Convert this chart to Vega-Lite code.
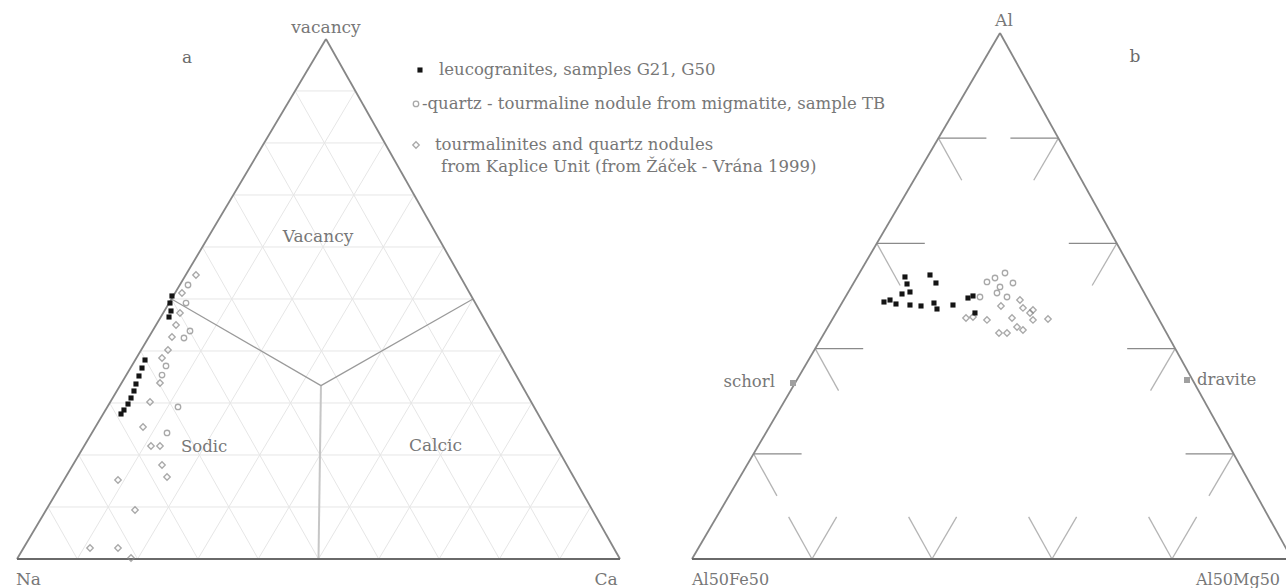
{
  "$schema": "https://vega.github.io/schema/vega-lite/v6.json",
  "width": 1286,
  "height": 588,
  "padding": 0,
  "autosize": {"type": "none"},
  "background": "white",
  "config": {"view": {"stroke": null}},
  "datasets": {
    "segs": [
      {"kind": "grid", "x": 5.124, "y": 8.624, "x2": 95.124, "y2": 8.624},
      {"kind": "grid", "x": 10.248, "y": 17.248, "x2": 90.248, "y2": 17.248},
      {"kind": "grid", "x": 15.372, "y": 25.872, "x2": 85.372, "y2": 25.872},
      {"kind": "grid", "x": 20.496, "y": 34.496, "x2": 80.496, "y2": 34.496},
      {"kind": "grid", "x": 25.62, "y": 43.12, "x2": 75.62, "y2": 43.12},
      {"kind": "grid", "x": 30.744, "y": 51.744, "x2": 70.744, "y2": 51.744},
      {"kind": "grid", "x": 35.868, "y": 60.368, "x2": 65.868, "y2": 60.368},
      {"kind": "grid", "x": 40.992, "y": 68.992, "x2": 60.992, "y2": 68.992},
      {"kind": "grid", "x": 46.116, "y": 77.616, "x2": 56.116, "y2": 77.616},
      {"kind": "grid", "x": 10, "y": 0, "x2": 56.116, "y2": 77.616},
      {"kind": "grid", "x": 20, "y": 0, "x2": 60.992, "y2": 68.992},
      {"kind": "grid", "x": 30, "y": 0, "x2": 65.868, "y2": 60.368},
      {"kind": "grid", "x": 40, "y": 0, "x2": 70.744, "y2": 51.744},
      {"kind": "grid", "x": 50, "y": 0, "x2": 75.62, "y2": 43.12},
      {"kind": "grid", "x": 60, "y": 0, "x2": 80.496, "y2": 34.496},
      {"kind": "grid", "x": 70, "y": 0, "x2": 85.372, "y2": 25.872},
      {"kind": "grid", "x": 80, "y": 0, "x2": 90.248, "y2": 17.248},
      {"kind": "grid", "x": 90, "y": 0, "x2": 95.124, "y2": 8.624},
      {"kind": "grid", "x": 90, "y": 0, "x2": 46.116, "y2": 77.616},
      {"kind": "grid", "x": 80, "y": 0, "x2": 40.992, "y2": 68.992},
      {"kind": "grid", "x": 70, "y": 0, "x2": 35.868, "y2": 60.368},
      {"kind": "grid", "x": 60, "y": 0, "x2": 30.744, "y2": 51.744},
      {"kind": "grid", "x": 50, "y": 0, "x2": 25.62, "y2": 43.12},
      {"kind": "grid", "x": 40, "y": 0, "x2": 20.496, "y2": 34.496},
      {"kind": "grid", "x": 30, "y": 0, "x2": 15.372, "y2": 25.872},
      {"kind": "grid", "x": 20, "y": 0, "x2": 10.248, "y2": 17.248},
      {"kind": "grid", "x": 10, "y": 0, "x2": 5.124, "y2": 8.624},
      {"kind": "fieldv", "x": 50.41, "y": 28.75, "x2": 50, "y2": 0},
      {"kind": "field", "x": 50.41, "y": 28.75, "x2": 25.62, "y2": 43.12},
      {"kind": "field", "x": 50.41, "y": 28.75, "x2": 75.62, "y2": 43.12},
      {"kind": "tickh", "x": 122.156, "y": 17.446, "x2": 130.116, "y2": 17.446},
      {"kind": "tickh", "x": 132.372, "y": 34.892, "x2": 140.332, "y2": 34.892},
      {"kind": "tickh", "x": 142.588, "y": 52.338, "x2": 150.548, "y2": 52.338},
      {"kind": "tickh", "x": 152.804, "y": 69.784, "x2": 160.764, "y2": 69.784},
      {"kind": "tickh", "x": 201.756, "y": 17.446, "x2": 193.796, "y2": 17.446},
      {"kind": "tickh", "x": 192.072, "y": 34.892, "x2": 184.112, "y2": 34.892},
      {"kind": "tickh", "x": 182.388, "y": 52.338, "x2": 174.428, "y2": 52.338},
      {"kind": "tickh", "x": 172.704, "y": 69.784, "x2": 164.744, "y2": 69.784},
      {"kind": "tickd", "x": 122.156, "y": 17.446, "x2": 126.03, "y2": 10.468},
      {"kind": "tickd", "x": 132.372, "y": 34.892, "x2": 136.246, "y2": 27.914},
      {"kind": "tickd", "x": 142.588, "y": 52.338, "x2": 146.462, "y2": 45.36},
      {"kind": "tickd", "x": 152.804, "y": 69.784, "x2": 156.678, "y2": 62.806},
      {"kind": "tickd", "x": 201.756, "y": 17.446, "x2": 197.67, "y2": 10.468},
      {"kind": "tickd", "x": 192.072, "y": 34.892, "x2": 187.986, "y2": 27.914},
      {"kind": "tickd", "x": 182.388, "y": 52.338, "x2": 178.302, "y2": 45.36},
      {"kind": "tickd", "x": 172.704, "y": 69.784, "x2": 168.618, "y2": 62.806},
      {"kind": "tickd", "x": 131.84, "y": 0, "x2": 127.966, "y2": 6.978},
      {"kind": "tickd", "x": 131.84, "y": 0, "x2": 135.926, "y2": 6.978},
      {"kind": "tickd", "x": 151.74, "y": 0, "x2": 147.866, "y2": 6.978},
      {"kind": "tickd", "x": 151.74, "y": 0, "x2": 155.826, "y2": 6.978},
      {"kind": "tickd", "x": 171.64, "y": 0, "x2": 167.766, "y2": 6.978},
      {"kind": "tickd", "x": 171.64, "y": 0, "x2": 175.726, "y2": 6.978},
      {"kind": "tickd", "x": 191.54, "y": 0, "x2": 187.666, "y2": 6.978},
      {"kind": "tickd", "x": 191.54, "y": 0, "x2": 195.626, "y2": 6.978},
      {"kind": "edge", "x": 0, "y": 0, "x2": 51.24, "y2": 86.24},
      {"kind": "edge", "x": 100, "y": 0, "x2": 51.24, "y2": 86.24},
      {"kind": "edge", "x": 111.94, "y": 0, "x2": 163.02, "y2": 87.23},
      {"kind": "edge", "x": 211.44, "y": 0, "x2": 163.02, "y2": 87.23},
      {"kind": "base", "x": 0, "y": 0, "x2": 100, "y2": 0},
      {"kind": "base", "x": 111.94, "y": 0, "x2": 211.44, "y2": 0}
    ],
    "pts": [
      {"s": "leuco", "x": 25.37, "y": 42.45},
      {"s": "leuco", "x": 25.54, "y": 41.13},
      {"s": "leuco", "x": 25.21, "y": 40.13},
      {"s": "leuco", "x": 25.7, "y": 43.62},
      {"s": "leuco", "x": 21.23, "y": 33.0},
      {"s": "leuco", "x": 20.73, "y": 31.67},
      {"s": "leuco", "x": 20.23, "y": 30.35},
      {"s": "leuco", "x": 19.73, "y": 29.02},
      {"s": "leuco", "x": 19.4, "y": 27.86},
      {"s": "leuco", "x": 18.91, "y": 26.7},
      {"s": "leuco", "x": 18.41, "y": 25.7},
      {"s": "leuco", "x": 17.74, "y": 24.71},
      {"s": "leuco", "x": 17.25, "y": 24.05},
      {"s": "tb", "x": 28.36, "y": 45.44},
      {"s": "tb", "x": 28.03, "y": 42.45},
      {"s": "tb", "x": 28.69, "y": 37.81},
      {"s": "tb", "x": 27.69, "y": 36.65},
      {"s": "tb", "x": 24.71, "y": 32.01},
      {"s": "tb", "x": 24.05, "y": 30.51},
      {"s": "tb", "x": 26.7, "y": 25.21},
      {"s": "tb", "x": 24.88, "y": 20.9},
      {"s": "kap", "x": 29.68, "y": 47.1},
      {"s": "kap", "x": 27.36, "y": 44.11},
      {"s": "kap", "x": 27.03, "y": 40.8},
      {"s": "kap", "x": 26.37, "y": 38.81},
      {"s": "kap", "x": 25.7, "y": 36.82},
      {"s": "kap", "x": 25.04, "y": 34.66},
      {"s": "kap", "x": 24.05, "y": 33.33},
      {"s": "kap", "x": 23.71, "y": 29.19},
      {"s": "kap", "x": 22.06, "y": 26.04},
      {"s": "kap", "x": 20.9, "y": 21.89},
      {"s": "kap", "x": 22.22, "y": 18.74},
      {"s": "kap", "x": 23.71, "y": 18.74},
      {"s": "kap", "x": 24.05, "y": 15.59},
      {"s": "kap", "x": 24.88, "y": 13.6},
      {"s": "kap", "x": 16.75, "y": 13.1},
      {"s": "kap", "x": 19.57, "y": 8.13},
      {"s": "kap", "x": 12.11, "y": 1.82},
      {"s": "kap", "x": 16.75, "y": 1.82},
      {"s": "kap", "x": 18.91, "y": 0.17},
      {"s": "leuco", "x": 147.26, "y": 46.77},
      {"s": "leuco", "x": 147.6, "y": 45.61},
      {"s": "leuco", "x": 151.41, "y": 47.1},
      {"s": "leuco", "x": 152.4, "y": 45.77},
      {"s": "leuco", "x": 148.09, "y": 44.28},
      {"s": "leuco", "x": 146.77, "y": 43.95},
      {"s": "leuco", "x": 144.78, "y": 42.95},
      {"s": "leuco", "x": 145.77, "y": 42.29},
      {"s": "leuco", "x": 143.78, "y": 42.62},
      {"s": "leuco", "x": 148.09, "y": 42.12},
      {"s": "leuco", "x": 149.92, "y": 41.96},
      {"s": "leuco", "x": 152.07, "y": 42.45},
      {"s": "leuco", "x": 152.57, "y": 41.46},
      {"s": "leuco", "x": 155.22, "y": 42.12},
      {"s": "leuco", "x": 157.71, "y": 43.28},
      {"s": "leuco", "x": 158.54, "y": 43.62},
      {"s": "leuco", "x": 158.87, "y": 40.8},
      {"s": "tb", "x": 160.86, "y": 45.94},
      {"s": "tb", "x": 163.02, "y": 45.11},
      {"s": "tb", "x": 165.17, "y": 45.77},
      {"s": "tb", "x": 162.52, "y": 44.11},
      {"s": "tb", "x": 164.18, "y": 43.45},
      {"s": "tb", "x": 159.7, "y": 43.45},
      {"s": "tb", "x": 163.85, "y": 47.43},
      {"s": "tb", "x": 162.19, "y": 46.6},
      {"s": "kap", "x": 166.33, "y": 42.95},
      {"s": "kap", "x": 166.83, "y": 41.63},
      {"s": "kap", "x": 168.0, "y": 40.8},
      {"s": "kap", "x": 168.49, "y": 39.64},
      {"s": "kap", "x": 165.84, "y": 38.47},
      {"s": "kap", "x": 164.18, "y": 37.48},
      {"s": "kap", "x": 166.83, "y": 37.98},
      {"s": "kap", "x": 160.86, "y": 39.64},
      {"s": "kap", "x": 158.54, "y": 40.13},
      {"s": "kap", "x": 170.98, "y": 39.8},
      {"s": "kap", "x": 168.49, "y": 41.29},
      {"s": "kap", "x": 162.85, "y": 37.48},
      {"s": "kap", "x": 157.38, "y": 39.97},
      {"s": "kap", "x": 165.01, "y": 39.97},
      {"s": "kap", "x": 163.18, "y": 41.96},
      {"s": "leuco", "x": 66.83, "y": 81.09},
      {"s": "tb", "x": 66.17, "y": 75.46},
      {"s": "kap", "x": 66.17, "y": 68.66},
      {"s": "em", "x": 128.69, "y": 29.19},
      {"s": "em", "x": 194.03, "y": 29.68}
    ],
    "labels": [
      {"g": "vc", "t": "vacancy", "x": 51.24, "y": 88.06},
      {"g": "vc", "t": "Al", "x": 163.68, "y": 89.22},
      {"g": "vc", "t": "Na", "x": 1.9, "y": -3.48},
      {"g": "vc", "t": "Ca", "x": 97.68, "y": -3.48},
      {"g": "vl", "t": "Al50Fe50", "x": 111.94, "y": -3.48},
      {"g": "vl", "t": "Al50Mg50", "x": 195.52, "y": -3.48},
      {"g": "pc", "t": "a", "x": 28.19, "y": 83.08},
      {"g": "pc", "t": "b", "x": 185.41, "y": 83.25},
      {"g": "fc", "t": "Vacancy", "x": 49.92, "y": 53.4},
      {"g": "fc", "t": "Calcic", "x": 69.4, "y": 18.74},
      {"g": "fl", "t": "Sodic", "x": 27.2, "y": 18.57},
      {"g": "fl", "t": "dravite", "x": 195.69, "y": 29.68},
      {"g": "fr", "t": "schorl", "x": 125.7, "y": 29.35},
      {"g": "ll", "t": "leucogranites, samples G21, G50", "x": 69.98, "y": 81.09},
      {"g": "ll", "t": "-quartz - tourmaline nodule from migmatite, sample TB", "x": 67.16, "y": 75.46},
      {"g": "ll", "t": "tourmalinites and quartz nodules", "x": 69.32, "y": 68.66},
      {"g": "ll", "t": "from Kaplice Unit (from Žáček - Vrána 1999)", "x": 70.32, "y": 65.01}
    ]
  },
  "encoding": {
    "x": {"field": "x", "type": "quantitative", "axis": null, "scale": {"domain": [-2.819, 210.45], "nice": false, "zero": false}},
    "y": {"field": "y", "type": "quantitative", "axis": null, "scale": {"domain": [-4.809, 92.7], "nice": false, "zero": false}}
  },
  "layer": [
    {
      "data": {"name": "segs"},
      "transform": [{"filter": "datum.kind === 'grid'"}],
      "mark": {"type": "rule", "color": "#e6e6e6", "strokeWidth": 1},
      "encoding": {"x2": {"field": "x2"}, "y2": {"field": "y2"}}
    },
    {
      "data": {"name": "segs"},
      "transform": [{"filter": "datum.kind === 'fieldv'"}],
      "mark": {"type": "rule", "color": "#c6c6c6", "strokeWidth": 2},
      "encoding": {"x2": {"field": "x2"}, "y2": {"field": "y2"}}
    },
    {
      "data": {"name": "segs"},
      "transform": [{"filter": "datum.kind === 'field'"}],
      "mark": {"type": "rule", "color": "#9a9a9a", "strokeWidth": 1.2},
      "encoding": {"x2": {"field": "x2"}, "y2": {"field": "y2"}}
    },
    {
      "data": {"name": "segs"},
      "transform": [{"filter": "datum.kind === 'tickd'"}],
      "mark": {"type": "rule", "color": "#b4b4b4", "strokeWidth": 1.3},
      "encoding": {"x2": {"field": "x2"}, "y2": {"field": "y2"}}
    },
    {
      "data": {"name": "segs"},
      "transform": [{"filter": "datum.kind === 'tickh'"}],
      "mark": {"type": "rule", "color": "#8a8a8a", "strokeWidth": 1.2},
      "encoding": {"x2": {"field": "x2"}, "y2": {"field": "y2"}}
    },
    {
      "data": {"name": "segs"},
      "transform": [{"filter": "datum.kind === 'edge'"}],
      "mark": {"type": "rule", "color": "#868686", "strokeWidth": 1.8},
      "encoding": {"x2": {"field": "x2"}, "y2": {"field": "y2"}}
    },
    {
      "data": {"name": "segs"},
      "transform": [{"filter": "datum.kind === 'base'"}],
      "mark": {"type": "rule", "color": "#6a6a6a", "strokeWidth": 2},
      "encoding": {"x2": {"field": "x2"}, "y2": {"field": "y2"}}
    },
    {
      "data": {"name": "pts"},
      "transform": [{"filter": "datum.s === 'kap'"}],
      "mark": {"type": "point", "shape": "diamond", "filled": false, "color": "#858585", "strokeWidth": 1.3, "size": 42}
    },
    {
      "data": {"name": "pts"},
      "transform": [{"filter": "datum.s === 'tb'"}],
      "mark": {"type": "point", "shape": "circle", "filled": false, "color": "#858585", "strokeWidth": 1.3, "size": 30}
    },
    {
      "data": {"name": "pts"},
      "transform": [{"filter": "datum.s === 'em'"}],
      "mark": {"type": "square", "color": "#a0a0a0", "size": 36, "opacity": 1}
    },
    {
      "data": {"name": "pts"},
      "transform": [{"filter": "datum.s === 'leuco'"}],
      "mark": {"type": "square", "color": "#141414", "size": 26, "opacity": 1}
    },
    {
      "data": {"name": "labels"},
      "transform": [{"filter": "datum.g === 'vc'"}],
      "mark": {"type": "text", "font": "DejaVu Serif", "fontSize": 17, "color": "#777777", "align": "center", "baseline": "middle"},
      "encoding": {"text": {"field": "t"}}
    },
    {
      "data": {"name": "labels"},
      "transform": [{"filter": "datum.g === 'vl'"}],
      "mark": {"type": "text", "font": "DejaVu Serif", "fontSize": 16, "color": "#777777", "align": "left", "baseline": "middle"},
      "encoding": {"text": {"field": "t"}}
    },
    {
      "data": {"name": "labels"},
      "transform": [{"filter": "datum.g === 'pc'"}],
      "mark": {"type": "text", "font": "DejaVu Serif", "fontSize": 17, "color": "#6a6a6a", "align": "center", "baseline": "middle"},
      "encoding": {"text": {"field": "t"}}
    },
    {
      "data": {"name": "labels"},
      "transform": [{"filter": "datum.g === 'fc'"}],
      "mark": {"type": "text", "font": "DejaVu Serif", "fontSize": 17, "color": "#777777", "align": "center", "baseline": "middle"},
      "encoding": {"text": {"field": "t"}}
    },
    {
      "data": {"name": "labels"},
      "transform": [{"filter": "datum.g === 'fl'"}],
      "mark": {"type": "text", "font": "DejaVu Serif", "fontSize": 16.5, "color": "#777777", "align": "left", "baseline": "middle"},
      "encoding": {"text": {"field": "t"}}
    },
    {
      "data": {"name": "labels"},
      "transform": [{"filter": "datum.g === 'fr'"}],
      "mark": {"type": "text", "font": "DejaVu Serif", "fontSize": 16.5, "color": "#777777", "align": "right", "baseline": "middle"},
      "encoding": {"text": {"field": "t"}}
    },
    {
      "data": {"name": "labels"},
      "transform": [{"filter": "datum.g === 'll'"}],
      "mark": {"type": "text", "font": "DejaVu Serif", "fontSize": 16.5, "color": "#777777", "align": "left", "baseline": "middle"},
      "encoding": {"text": {"field": "t"}}
    }
  ]
}
